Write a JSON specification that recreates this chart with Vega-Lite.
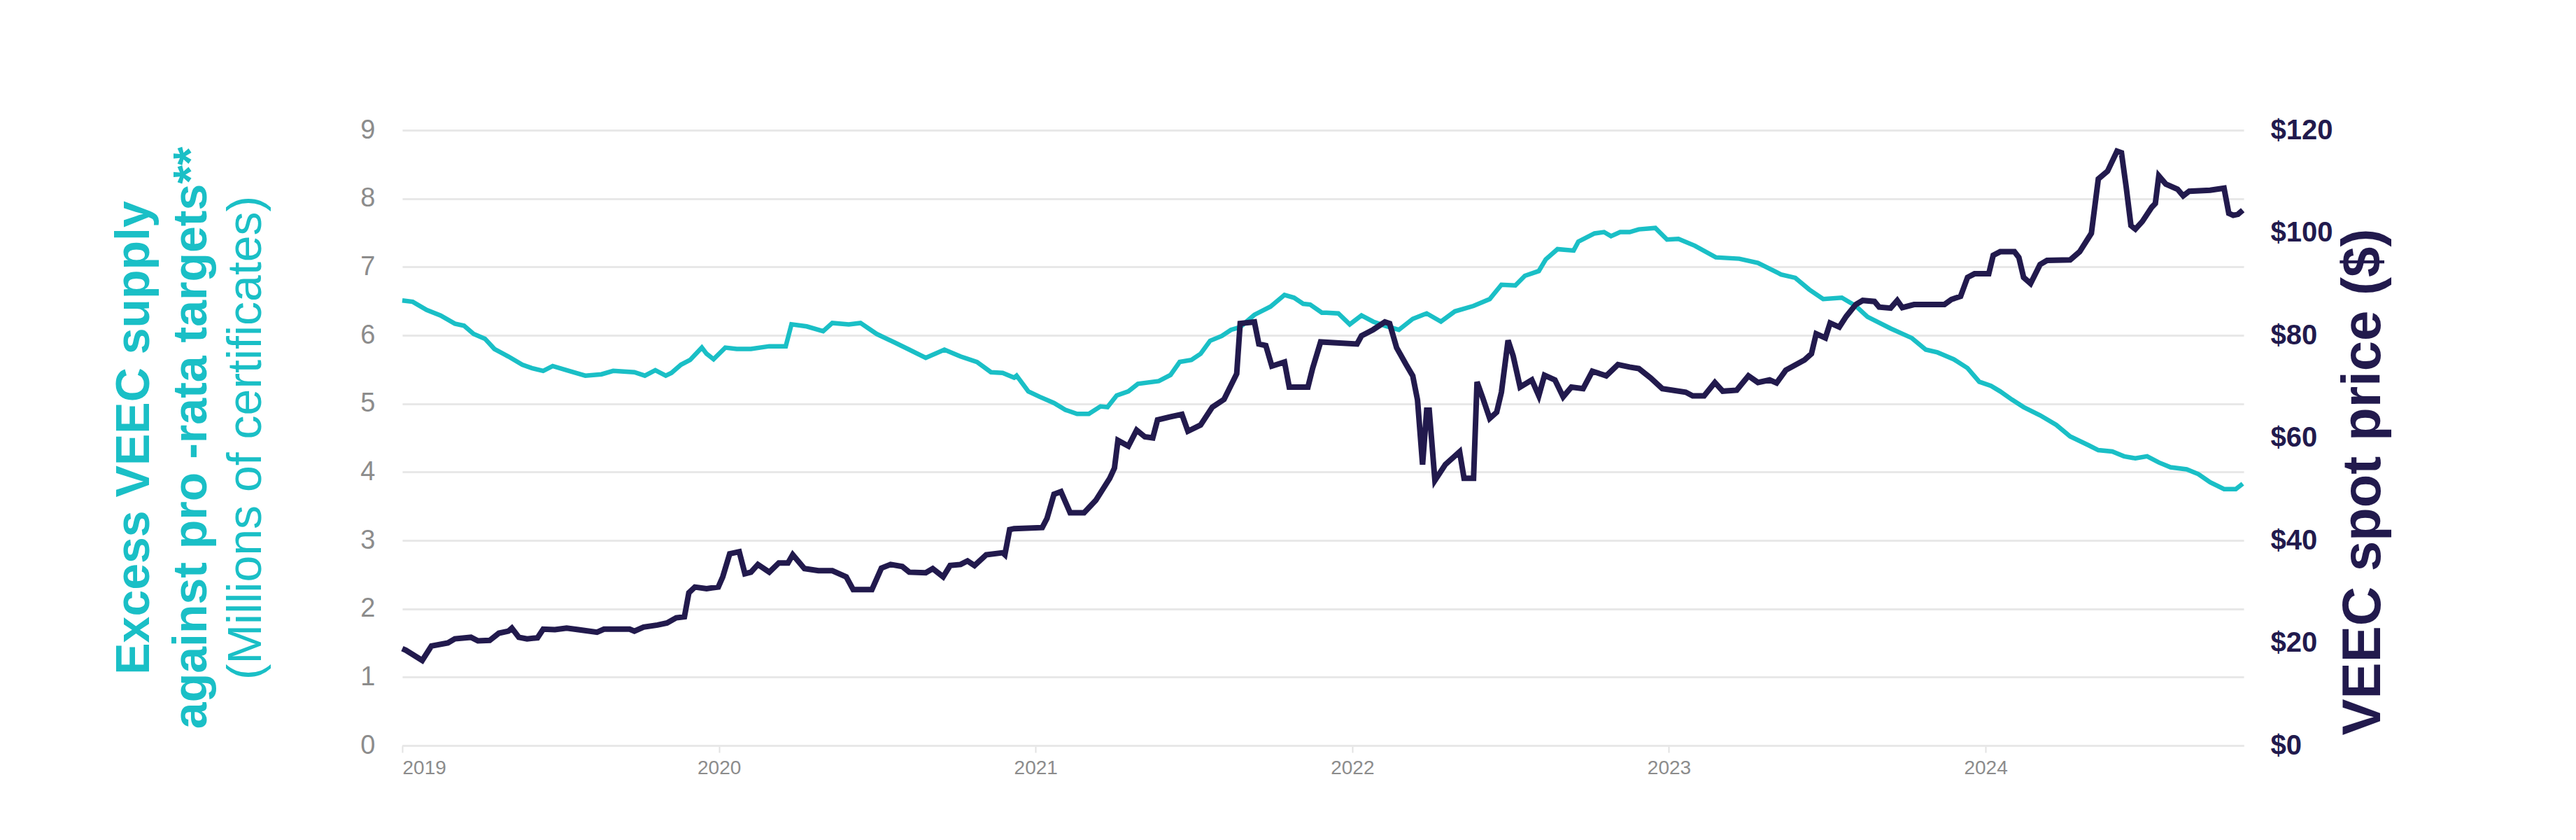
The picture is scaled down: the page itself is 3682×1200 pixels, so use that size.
{
  "$schema": "https://vega.github.io/schema/vega-lite/v6.json",
  "width": 2632,
  "height": 879,
  "autosize": {"type": "none"},
  "padding": {"left": 575, "top": 186, "right": 475, "bottom": 135},
  "background": "white",
  "config": {"view": {"stroke": null}, "font": "Liberation Sans"},
  "title": {
    "text": ["Excess VEEC supply", "against pro -rata targets**"],
    "subtitle": "(Millions of certificates)",
    "orient": "left",
    "anchor": "middle",
    "font": "Liberation Sans",
    "fontSize": 68,
    "fontWeight": "bold",
    "color": "#1ABFC6",
    "lineHeight": 82,
    "subtitleFont": "Liberation Sans",
    "subtitleFontSize": 68,
    "subtitleFontWeight": "normal",
    "subtitleColor": "#1ABFC6",
    "subtitleLineHeight": 82,
    "subtitlePadding": 10,
    "offset": 128
  },
  "datasets": {
    "supply": [
      {"year": 2019.000, "excess": 6.51}, {"year": 2019.033, "excess": 6.49}, {"year": 2019.077, "excess": 6.37},
      {"year": 2019.121, "excess": 6.29}, {"year": 2019.166, "excess": 6.17}, {"year": 2019.195, "excess": 6.14},
      {"year": 2019.225, "excess": 6.02}, {"year": 2019.261, "excess": 5.95}, {"year": 2019.291, "excess": 5.80},
      {"year": 2019.335, "excess": 5.69}, {"year": 2019.379, "excess": 5.57}, {"year": 2019.409, "excess": 5.52},
      {"year": 2019.445, "excess": 5.48}, {"year": 2019.475, "excess": 5.55}, {"year": 2019.519, "excess": 5.49},
      {"year": 2019.578, "excess": 5.41}, {"year": 2019.629, "excess": 5.43}, {"year": 2019.666, "excess": 5.48},
      {"year": 2019.733, "excess": 5.46}, {"year": 2019.766, "excess": 5.41}, {"year": 2019.799, "excess": 5.49},
      {"year": 2019.832, "excess": 5.41}, {"year": 2019.850, "excess": 5.45}, {"year": 2019.880, "excess": 5.57},
      {"year": 2019.909, "excess": 5.64}, {"year": 2019.946, "excess": 5.82}, {"year": 2019.961, "excess": 5.73},
      {"year": 2019.983, "excess": 5.65}, {"year": 2020.020, "excess": 5.82}, {"year": 2020.056, "excess": 5.80},
      {"year": 2020.101, "excess": 5.80}, {"year": 2020.159, "excess": 5.84}, {"year": 2020.211, "excess": 5.84},
      {"year": 2020.229, "excess": 6.16}, {"year": 2020.277, "excess": 6.13}, {"year": 2020.329, "excess": 6.06},
      {"year": 2020.358, "excess": 6.18}, {"year": 2020.410, "excess": 6.16}, {"year": 2020.447, "excess": 6.18},
      {"year": 2020.498, "excess": 6.02}, {"year": 2020.557, "excess": 5.89}, {"year": 2020.601, "excess": 5.79},
      {"year": 2020.653, "excess": 5.67}, {"year": 2020.712, "excess": 5.79}, {"year": 2020.763, "excess": 5.69},
      {"year": 2020.815, "excess": 5.61}, {"year": 2020.859, "excess": 5.46}, {"year": 2020.896, "excess": 5.45},
      {"year": 2020.932, "excess": 5.38}, {"year": 2020.940, "excess": 5.41}, {"year": 2020.977, "excess": 5.18},
      {"year": 2021.013, "excess": 5.10}, {"year": 2021.058, "excess": 5.01}, {"year": 2021.094, "excess": 4.91},
      {"year": 2021.131, "excess": 4.85}, {"year": 2021.168, "excess": 4.85}, {"year": 2021.205, "excess": 4.96},
      {"year": 2021.227, "excess": 4.95}, {"year": 2021.256, "excess": 5.12}, {"year": 2021.293, "excess": 5.18},
      {"year": 2021.323, "excess": 5.29}, {"year": 2021.389, "excess": 5.33}, {"year": 2021.426, "excess": 5.42},
      {"year": 2021.455, "excess": 5.61}, {"year": 2021.492, "excess": 5.64}, {"year": 2021.521, "excess": 5.73},
      {"year": 2021.551, "excess": 5.92}, {"year": 2021.588, "excess": 5.99}, {"year": 2021.617, "excess": 6.08},
      {"year": 2021.646, "excess": 6.12}, {"year": 2021.691, "excess": 6.30}, {"year": 2021.742, "excess": 6.42},
      {"year": 2021.786, "excess": 6.59}, {"year": 2021.816, "excess": 6.55}, {"year": 2021.845, "excess": 6.46},
      {"year": 2021.867, "excess": 6.45}, {"year": 2021.904, "excess": 6.33}, {"year": 2021.919, "excess": 6.33},
      {"year": 2021.956, "excess": 6.32}, {"year": 2021.992, "excess": 6.16}, {"year": 2022.029, "excess": 6.29},
      {"year": 2022.066, "excess": 6.20}, {"year": 2022.103, "excess": 6.14}, {"year": 2022.147, "excess": 6.08},
      {"year": 2022.191, "excess": 6.24}, {"year": 2022.235, "excess": 6.32}, {"year": 2022.280, "excess": 6.20},
      {"year": 2022.324, "excess": 6.35}, {"year": 2022.383, "excess": 6.43}, {"year": 2022.434, "excess": 6.53},
      {"year": 2022.471, "excess": 6.74}, {"year": 2022.515, "excess": 6.73}, {"year": 2022.545, "excess": 6.87},
      {"year": 2022.589, "excess": 6.94}, {"year": 2022.611, "excess": 7.11}, {"year": 2022.648, "excess": 7.26},
      {"year": 2022.699, "excess": 7.24}, {"year": 2022.714, "excess": 7.37}, {"year": 2022.765, "excess": 7.49},
      {"year": 2022.795, "excess": 7.51}, {"year": 2022.817, "excess": 7.45}, {"year": 2022.846, "excess": 7.51},
      {"year": 2022.876, "excess": 7.51}, {"year": 2022.905, "excess": 7.55}, {"year": 2022.957, "excess": 7.57},
      {"year": 2022.994, "excess": 7.40}, {"year": 2023.030, "excess": 7.41}, {"year": 2023.082, "excess": 7.31},
      {"year": 2023.148, "excess": 7.14}, {"year": 2023.222, "excess": 7.12}, {"year": 2023.281, "excess": 7.06},
      {"year": 2023.354, "excess": 6.89}, {"year": 2023.399, "excess": 6.84}, {"year": 2023.443, "excess": 6.67},
      {"year": 2023.487, "excess": 6.53}, {"year": 2023.546, "excess": 6.55}, {"year": 2023.590, "excess": 6.43},
      {"year": 2023.627, "excess": 6.27}, {"year": 2023.700, "excess": 6.10}, {"year": 2023.767, "excess": 5.96},
      {"year": 2023.811, "excess": 5.79}, {"year": 2023.848, "excess": 5.75}, {"year": 2023.899, "excess": 5.65},
      {"year": 2023.943, "excess": 5.52}, {"year": 2023.980, "excess": 5.32}, {"year": 2024.017, "excess": 5.26},
      {"year": 2024.046, "excess": 5.18}, {"year": 2024.083, "excess": 5.06}, {"year": 2024.120, "excess": 4.95},
      {"year": 2024.172, "excess": 4.83}, {"year": 2024.223, "excess": 4.69}, {"year": 2024.267, "excess": 4.52},
      {"year": 2024.326, "excess": 4.39}, {"year": 2024.356, "excess": 4.32}, {"year": 2024.400, "excess": 4.30},
      {"year": 2024.437, "excess": 4.23}, {"year": 2024.473, "excess": 4.20}, {"year": 2024.510, "excess": 4.23},
      {"year": 2024.547, "excess": 4.14}, {"year": 2024.584, "excess": 4.07}, {"year": 2024.635, "excess": 4.04},
      {"year": 2024.672, "excess": 3.97}, {"year": 2024.709, "excess": 3.85}, {"year": 2024.753, "excess": 3.75},
      {"year": 2024.790, "excess": 3.75}, {"year": 2024.812, "excess": 3.83}
    ],
    "price": [
      {"year": 2019.000, "price": 18.9}, {"year": 2019.011, "price": 18.6}, {"year": 2019.063, "price": 16.6},
      {"year": 2019.092, "price": 19.4}, {"year": 2019.144, "price": 20.0}, {"year": 2019.166, "price": 20.8},
      {"year": 2019.217, "price": 21.1}, {"year": 2019.239, "price": 20.4}, {"year": 2019.276, "price": 20.5},
      {"year": 2019.305, "price": 21.9}, {"year": 2019.335, "price": 22.3}, {"year": 2019.346, "price": 22.9},
      {"year": 2019.368, "price": 21.1}, {"year": 2019.394, "price": 20.8}, {"year": 2019.427, "price": 21.0},
      {"year": 2019.445, "price": 22.7}, {"year": 2019.482, "price": 22.6}, {"year": 2019.519, "price": 22.9},
      {"year": 2019.556, "price": 22.6}, {"year": 2019.615, "price": 22.1}, {"year": 2019.637, "price": 22.7},
      {"year": 2019.718, "price": 22.7}, {"year": 2019.733, "price": 22.3}, {"year": 2019.762, "price": 23.1},
      {"year": 2019.806, "price": 23.5}, {"year": 2019.836, "price": 23.9}, {"year": 2019.865, "price": 24.9},
      {"year": 2019.891, "price": 25.1}, {"year": 2019.905, "price": 29.8}, {"year": 2019.924, "price": 30.9},
      {"year": 2019.961, "price": 30.6}, {"year": 2019.998, "price": 30.9}, {"year": 2020.012, "price": 32.9},
      {"year": 2020.034, "price": 37.4}, {"year": 2020.064, "price": 37.8}, {"year": 2020.082, "price": 33.5},
      {"year": 2020.101, "price": 33.8}, {"year": 2020.123, "price": 35.3}, {"year": 2020.159, "price": 33.8},
      {"year": 2020.189, "price": 35.6}, {"year": 2020.218, "price": 35.6}, {"year": 2020.233, "price": 37.2},
      {"year": 2020.270, "price": 34.5}, {"year": 2020.314, "price": 34.1}, {"year": 2020.358, "price": 34.1},
      {"year": 2020.402, "price": 32.9}, {"year": 2020.424, "price": 30.4}, {"year": 2020.483, "price": 30.4},
      {"year": 2020.513, "price": 34.6}, {"year": 2020.542, "price": 35.3}, {"year": 2020.579, "price": 34.9},
      {"year": 2020.601, "price": 33.8}, {"year": 2020.653, "price": 33.7}, {"year": 2020.675, "price": 34.5},
      {"year": 2020.708, "price": 32.9}, {"year": 2020.730, "price": 35.1}, {"year": 2020.763, "price": 35.3},
      {"year": 2020.785, "price": 36.0}, {"year": 2020.807, "price": 35.1}, {"year": 2020.844, "price": 37.2},
      {"year": 2020.896, "price": 37.6}, {"year": 2020.903, "price": 37.2}, {"year": 2020.918, "price": 42.1},
      {"year": 2020.932, "price": 42.3}, {"year": 2021.021, "price": 42.5}, {"year": 2021.036, "price": 44.3},
      {"year": 2021.058, "price": 49.0}, {"year": 2021.080, "price": 49.5}, {"year": 2021.109, "price": 45.4},
      {"year": 2021.153, "price": 45.4}, {"year": 2021.190, "price": 47.8}, {"year": 2021.234, "price": 52.1},
      {"year": 2021.249, "price": 54.1}, {"year": 2021.260, "price": 59.5}, {"year": 2021.293, "price": 58.4},
      {"year": 2021.319, "price": 61.5}, {"year": 2021.345, "price": 60.2}, {"year": 2021.370, "price": 60.0},
      {"year": 2021.385, "price": 63.5}, {"year": 2021.426, "price": 64.1}, {"year": 2021.462, "price": 64.6},
      {"year": 2021.481, "price": 61.3}, {"year": 2021.521, "price": 62.5}, {"year": 2021.558, "price": 66.0},
      {"year": 2021.595, "price": 67.5}, {"year": 2021.635, "price": 72.5}, {"year": 2021.646, "price": 82.3},
      {"year": 2021.691, "price": 82.6}, {"year": 2021.705, "price": 78.3}, {"year": 2021.727, "price": 78.0},
      {"year": 2021.746, "price": 74.0}, {"year": 2021.786, "price": 74.8}, {"year": 2021.801, "price": 69.9},
      {"year": 2021.860, "price": 69.9}, {"year": 2021.875, "price": 73.6}, {"year": 2021.900, "price": 78.7},
      {"year": 2022.015, "price": 78.3}, {"year": 2022.029, "price": 79.9}, {"year": 2022.066, "price": 81.1},
      {"year": 2022.103, "price": 82.6}, {"year": 2022.118, "price": 82.3}, {"year": 2022.140, "price": 77.6},
      {"year": 2022.169, "price": 74.4}, {"year": 2022.191, "price": 72.1}, {"year": 2022.206, "price": 67.4},
      {"year": 2022.222, "price": 54.8}, {"year": 2022.235, "price": 65.4}, {"year": 2022.243, "price": 65.4},
      {"year": 2022.261, "price": 51.7}, {"year": 2022.294, "price": 54.8}, {"year": 2022.339, "price": 57.3},
      {"year": 2022.353, "price": 52.1}, {"year": 2022.383, "price": 52.1}, {"year": 2022.394, "price": 70.9},
      {"year": 2022.412, "price": 67.8}, {"year": 2022.434, "price": 63.8}, {"year": 2022.456, "price": 65.0},
      {"year": 2022.471, "price": 68.9}, {"year": 2022.492, "price": 79.0}, {"year": 2022.508, "price": 76.0},
      {"year": 2022.530, "price": 69.9}, {"year": 2022.567, "price": 71.3}, {"year": 2022.589, "price": 68.2},
      {"year": 2022.607, "price": 72.2}, {"year": 2022.640, "price": 71.3}, {"year": 2022.666, "price": 68.0},
      {"year": 2022.692, "price": 69.9}, {"year": 2022.729, "price": 69.6}, {"year": 2022.758, "price": 73.0},
      {"year": 2022.802, "price": 72.1}, {"year": 2022.839, "price": 74.3}, {"year": 2022.876, "price": 73.8},
      {"year": 2022.905, "price": 73.5}, {"year": 2022.942, "price": 71.7}, {"year": 2022.979, "price": 69.6},
      {"year": 2023.053, "price": 68.9}, {"year": 2023.075, "price": 68.2}, {"year": 2023.111, "price": 68.2},
      {"year": 2023.145, "price": 70.8}, {"year": 2023.170, "price": 69.1}, {"year": 2023.214, "price": 69.3},
      {"year": 2023.251, "price": 72.1}, {"year": 2023.281, "price": 70.8}, {"year": 2023.318, "price": 71.3},
      {"year": 2023.340, "price": 70.7}, {"year": 2023.369, "price": 73.2}, {"year": 2023.428, "price": 75.2},
      {"year": 2023.450, "price": 76.4}, {"year": 2023.465, "price": 80.3}, {"year": 2023.494, "price": 79.5},
      {"year": 2023.509, "price": 82.4}, {"year": 2023.538, "price": 81.6}, {"year": 2023.560, "price": 83.7},
      {"year": 2023.590, "price": 86.0}, {"year": 2023.612, "price": 86.8}, {"year": 2023.649, "price": 86.6},
      {"year": 2023.664, "price": 85.5}, {"year": 2023.700, "price": 85.3}, {"year": 2023.721, "price": 86.8},
      {"year": 2023.737, "price": 85.4}, {"year": 2023.774, "price": 86.0}, {"year": 2023.848, "price": 86.0},
      {"year": 2023.870, "price": 86.0}, {"year": 2023.892, "price": 87.0}, {"year": 2023.921, "price": 87.6},
      {"year": 2023.943, "price": 91.3}, {"year": 2023.965, "price": 92.0}, {"year": 2024.010, "price": 92.0},
      {"year": 2024.024, "price": 95.6}, {"year": 2024.046, "price": 96.3}, {"year": 2024.091, "price": 96.3},
      {"year": 2024.105, "price": 95.2}, {"year": 2024.120, "price": 91.3}, {"year": 2024.142, "price": 90.1},
      {"year": 2024.172, "price": 93.8}, {"year": 2024.194, "price": 94.6}, {"year": 2024.267, "price": 94.7},
      {"year": 2024.297, "price": 96.3}, {"year": 2024.334, "price": 99.9}, {"year": 2024.356, "price": 110.5},
      {"year": 2024.385, "price": 112.0}, {"year": 2024.415, "price": 115.9}, {"year": 2024.429, "price": 115.6},
      {"year": 2024.444, "price": 108.9}, {"year": 2024.459, "price": 101.4}, {"year": 2024.473, "price": 100.7},
      {"year": 2024.495, "price": 102.2}, {"year": 2024.525, "price": 105.0}, {"year": 2024.536, "price": 105.7},
      {"year": 2024.547, "price": 111.1}, {"year": 2024.569, "price": 109.5}, {"year": 2024.606, "price": 108.5},
      {"year": 2024.624, "price": 107.2}, {"year": 2024.643, "price": 108.1}, {"year": 2024.709, "price": 108.3},
      {"year": 2024.753, "price": 108.7}, {"year": 2024.768, "price": 103.8}, {"year": 2024.782, "price": 103.4},
      {"year": 2024.797, "price": 103.6}, {"year": 2024.812, "price": 104.4}
    ]
  },
  "encoding": {
    "x": {
      "field": "year",
      "type": "quantitative",
      "scale": {"domain": [2019, 2024.815], "nice": false, "zero": false},
      "axis": {
        "values": [2019, 2020, 2021, 2022, 2023, 2024],
        "format": "d",
        "title": null,
        "grid": false,
        "domain": true,
        "domainColor": "#E8E8E8",
        "domainWidth": 3,
        "ticks": true,
        "tickColor": "#E2E2E2",
        "tickWidth": 2,
        "tickSize": 10,
        "labelFont": "Liberation Sans",
        "labelFontSize": 28,
        "labelColor": "#8C8C8C",
        "labelPadding": 8
      }
    }
  },
  "layer": [
    {
      "data": {"name": "supply"},
      "mark": {"type": "line", "color": "#1ABFC6", "strokeWidth": 6.5, "interpolate": "linear"},
      "encoding": {
        "y": {
          "field": "excess",
          "type": "quantitative",
          "scale": {"domain": [0, 9], "nice": false},
          "axis": {
            "orient": "left",
            "values": [0, 1, 2, 3, 4, 5, 6, 7, 8, 9],
            "title": null,
            "grid": true,
            "gridColor": "#E8E8E8",
            "gridWidth": 3,
            "domain": false,
            "ticks": false,
            "labelFont": "Liberation Sans",
            "labelFontSize": 38,
            "labelColor": "#8C8C8C",
            "labelPadding": 39
          }
        }
      }
    },
    {
      "data": {"name": "price"},
      "mark": {"type": "line", "color": "#221A4D", "strokeWidth": 8, "interpolate": "linear"},
      "encoding": {
        "y": {
          "field": "price",
          "type": "quantitative",
          "scale": {"domain": [0, 120], "nice": false},
          "axis": {
            "orient": "right",
            "values": [0, 20, 40, 60, 80, 100, 120],
            "labelExpr": "'$' + datum.value",
            "grid": false,
            "domain": false,
            "ticks": false,
            "labelFont": "Liberation Sans",
            "labelFontSize": 40,
            "labelFontWeight": "bold",
            "labelColor": "#221A4D",
            "labelPadding": 38,
            "title": "VEEC spot price ($)",
            "titleFont": "Liberation Sans",
            "titleFontSize": 78,
            "titleFontWeight": "bold",
            "titleColor": "#221A4D",
            "titleAngle": 270,
            "titleAlign": "center",
            "titleBaseline": "top",
            "titleY": 502,
            "titlePadding": 6
          }
        }
      }
    }
  ],
  "resolve": {"scale": {"y": "independent"}}
}
